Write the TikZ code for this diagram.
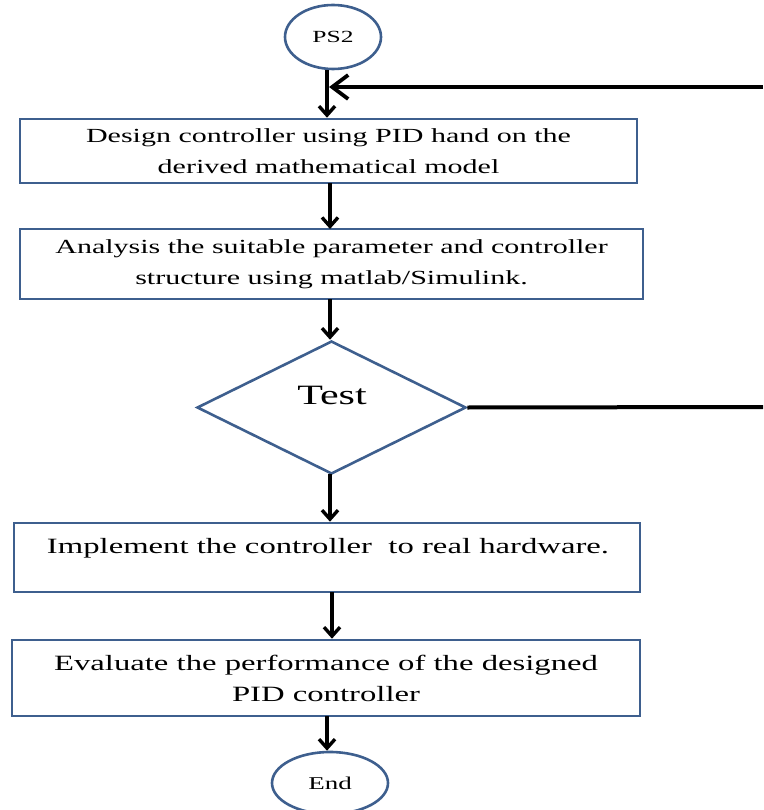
\documentclass[tikz,border=0pt]{standalone}
\usepackage{fontspec}
\setmainfont[FakeStretch=1.5]{Liberation Serif}
\usetikzlibrary{shapes.geometric,arrows.meta}
\definecolor{bbl}{HTML}{3E5F8E}
\tikzset{
  box/.style={draw=bbl, line width=2.6pt, fill=white, inner sep=0pt, align=center, font=\fontsize{20}{31}\selectfont},
  bigtext/.style={font=\fontsize{21.8}{31}\selectfont},
  oval/.style={ellipse, draw=bbl, line width=2.6pt, inner sep=0pt},
  dia/.style={diamond, draw=bbl, line width=2.6pt, inner sep=0pt, aspect=2},
  flow/.style={draw=black, line width=4pt, -{Straight Barb[length=9pt,width=16pt,line width=3.4pt]}},
  back/.style={draw=black, line width=4.5pt, -{Straight Barb[length=16pt,width=24pt,line width=3.8pt]}},
}
\begin{document}
\begin{tikzpicture}[x=1pt,y=-1pt]
\useasboundingbox (0,0) rectangle (763,810);
\node[oval, minimum width=96pt, minimum height=64pt, font=\fontsize{17}{20}\selectfont] (ps2) at (333,37) {PS2};
\node[box, minimum width=617pt, minimum height=64pt] (b1) at (328.5,151) {Design controller using PID hand on the\\derived mathematical model};
\node[box, minimum width=623pt, minimum height=70pt] (b2) at (331.5,264) {Analysis the suitable parameter and controller\\structure using matlab/Simulink.};
\node[dia, minimum width=269pt, minimum height=133pt] (d) at (331.5,407.5) {};
\node[font=\fontsize{28}{32}\selectfont] (t) at (332,395) {Test};
\node[box, minimum width=626pt, minimum height=69pt] (b3) at (327,557.5) {};
\node[bigtext] (t3) at (328,548) {Implement the controller\ \ to real hardware.};
\node[box, bigtext, minimum width=628pt, minimum height=76pt] (b4) at (326,678) {Evaluate the performance of the designed\\PID controller};
\node[oval, minimum width=116pt, minimum height=62pt, font=\fontsize{18}{20}\selectfont] (end) at (330,783) {End};
\coordinate (r1) at (763,87);
\coordinate (r2) at (763,407);
\coordinate (j1) at (327,87);
\draw[flow] (ps2.south -| j1) -- (j1 |- b1.north);
\draw[back] (r1) -- ([xshift=2pt]j1);
\draw[flow] (330,183) -- (330,229);
\draw[flow] (330,299) -- (d.north -| 330,0);
\draw[flow] (330,474) -- (b3.north -| 330,0);
\draw[flow] (332,592) -- (b4.north -| 332,0);
\draw[flow] (327,716) -- (end.north -| 327,0);
\draw[line width=4pt] (d.east) -- (r2);
\end{tikzpicture}
\end{document}
